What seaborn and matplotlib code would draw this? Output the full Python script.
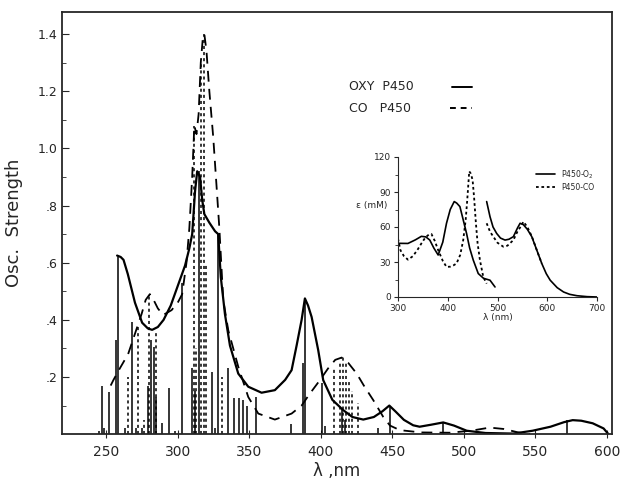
import numpy as np
import pandas as pd
import seaborn as sns
import matplotlib.pyplot as plt

# main spectrum: simulated curves (nm, osc. strength)
oxy_nm = [257.5, 260, 262, 265, 270, 275, 279, 282, 286, 290, 295, 300, 305, 308, 310, 312,
          313.5, 315.5, 317, 318.5, 322, 326, 328.2, 330, 332.9, 336.4, 342.2, 349.2, 358.5,
          367.8, 375, 379.5, 383, 386.5, 388.8, 391, 393.5, 398.1, 401.6, 408, 415.6, 422,
          429.6, 437, 443, 447.8, 452, 458, 464.5, 469, 477, 485.5, 493, 501.9, 515, 534.5,
          548, 560.5, 570, 576, 582, 590, 597.6, 601]
oxy_f = [0.625, 0.62, 0.61, 0.56, 0.46, 0.39, 0.37, 0.365, 0.375, 0.40, 0.45, 0.52, 0.59,
         0.65, 0.70, 0.85, 0.92, 0.90, 0.82, 0.77, 0.74, 0.71, 0.70, 0.55, 0.42, 0.31, 0.212,
         0.166, 0.145, 0.154, 0.19, 0.224, 0.31, 0.40, 0.475, 0.45, 0.41, 0.294, 0.189, 0.12,
         0.084, 0.06, 0.051, 0.06, 0.08, 0.10, 0.08, 0.05, 0.031, 0.026, 0.033, 0.041, 0.03,
         0.012, 0.004, 0.002, 0.012, 0.026, 0.042, 0.049, 0.047, 0.038, 0.02, 0.0]

co_nm = [253, 255, 259.4, 265.2, 269.9, 274.6, 277.5, 280.4, 283, 286, 289.7, 295.6, 300.2,
         303, 306, 308, 310, 311.5, 313, 314.5, 316, 317.5, 318.5, 320, 322, 324.7, 327, 329,
         331.7, 335.2, 342.2, 349.2, 356.2, 367.8, 379.5, 386.5, 392, 399.3, 405, 410, 414.5,
         419, 425, 430, 436.6, 443.6, 448.3, 455.2, 470, 490, 505, 518, 528, 538, 546]
co_f = [0.17, 0.19, 0.23, 0.28, 0.35, 0.42, 0.47, 0.49, 0.47, 0.44, 0.417, 0.434, 0.463,
        0.49, 0.60, 0.72, 0.90, 1.08, 1.05, 1.12, 1.30, 1.39, 1.40, 1.34, 1.20, 1.04, 0.87,
        0.72, 0.47, 0.364, 0.236, 0.13, 0.072, 0.051, 0.072, 0.10, 0.14, 0.189, 0.23, 0.26,
        0.268, 0.25, 0.212, 0.17, 0.119, 0.06, 0.03, 0.014, 0.006, 0.005, 0.012, 0.023,
        0.018, 0.006, 0.0]

# computed transitions (sticks)
oxy_stick_nm = [245, 247, 248.5, 251.7, 257, 258.3, 263, 267.6, 271, 275, 279, 281, 283.4,
                285, 288.6, 293.7, 298, 303, 309.6, 312, 314.9, 323.6, 326, 328.2, 335.2,
                339.4, 342.9, 345.2, 348.5, 354.5, 379, 387.6, 388.8, 400.5, 403, 414.5, 417,
                440, 448, 485.5, 572]
oxy_stick_f = [0.01, 0.168, 0.02, 0.148, 0.33, 0.62, 0.02, 0.393, 0.02, 0.02, 0.17, 0.33,
               0.306, 0.13, 0.04, 0.16, 0.01, 0.53, 0.23, 0.15, 0.92, 0.218, 0.02, 0.70,
               0.233, 0.125, 0.125, 0.118, 0.10, 0.13, 0.035, 0.25, 0.475, 0.18, 0.03, 0.09,
               0.05, 0.02, 0.10, 0.04, 0.05]

co_stick_nm = [264.8, 272, 276, 280, 285, 311.5, 313, 316, 318.2, 320, 330.5, 409, 413,
               415.6, 417.5, 419.8, 422, 426]
co_stick_f = [0.2, 0.38, 0.05, 0.49, 0.36, 1.08, 0.3, 1.30, 1.40, 0.6, 0.2, 0.23, 0.25,
              0.27, 0.25, 0.19, 0.15, 0.11]

# inset: experimental spectra (nm, epsilon mM)
o2_a_nm = [301, 320, 335, 347, 356, 363.9, 372, 380.7, 390, 397.5, 405, 413, 418, 424.4,
           430, 437.8, 444, 451.3, 461.3, 472, 484.9, 495]
o2_a_e = [46, 45.9, 49, 52, 51.5, 48.8, 42, 36, 47, 63.2, 75, 81.8, 80.5, 77.5, 68, 54.5,
          42, 31.6, 20.1, 16, 14.4, 8.6]
o2_b_nm = [478.2, 484.9, 491, 498.3, 506, 515.1, 523, 531.9, 540, 545.4, 552, 560, 568.9,
           580, 589, 598, 605.9, 620, 632.8, 645, 659.7, 680, 700]
o2_b_e = [81.8, 68.9, 60, 54.5, 50.5, 48.8, 49.5, 51.7, 59, 63.2, 62, 58, 51.7, 39, 28.7,
          20, 14.4, 8, 4.3, 2.3, 1.1, 0.3, 0]

co_a_nm = [300, 305, 312, 320, 330, 340, 347, 355, 362, 367.2, 374, 380.7, 390, 397.5, 405,
           411, 417.6, 425, 431.1, 436, 439.2, 443.2, 446, 449.9, 453, 456.6, 460, 464.7,
           471.4, 478.2]
co_a_e = [50, 40, 35, 32, 35, 41, 45.9, 51, 53.5, 54, 48, 40.2, 31, 25.8, 26, 27, 28.7, 36,
          48.8, 66, 83.3, 107.7, 106, 100.5, 85, 63.2, 46, 31.6, 17.2, 11.5]
co_b_nm = [478.2, 485, 491.6, 500, 511.8, 520, 531.9, 540, 548.7, 552, 560, 568.9, 580, 589]
co_b_e = [63.2, 56, 51.7, 46.5, 43.1, 44, 48.8, 56, 61.7, 64.6, 60, 52, 39, 28.7]

sns.set_style("ticks")
plt.rcParams['font.family'] = ['DejaVu Sans']

fig = plt.figure(figsize=(6.29, 4.84), dpi=100)
ax = fig.add_axes([0.0986, 0.103, 0.8744, 0.872])

ax.vlines(oxy_stick_nm, 0, oxy_stick_f, colors='black', linewidth=1.1)
ax.vlines(co_stick_nm, 0, co_stick_f, colors='black', linewidth=1.1, linestyles=(0, (2, 2)))

oxy = pd.DataFrame({'nm': oxy_nm, 'f': oxy_f})
co = pd.DataFrame({'nm': co_nm, 'f': co_f})
sns.lineplot(data=oxy, x='nm', y='f', ax=ax, color='black', linewidth=1.6, sort=False)
sns.lineplot(data=co, x='nm', y='f', ax=ax, color='black', linewidth=1.3,
             linestyle=(0, (6, 4)), sort=False)

ax.set_xlim(219, 603.5)
ax.set_ylim(0, 1.477)
ax.set_xticks([250, 300, 350, 400, 450, 500, 550, 600])
ax.set_yticks([0.2, 0.4, 0.6, 0.8, 1.0, 1.2, 1.4])
ax.set_yticklabels(['.2', '.4', '.6', '.8', '1.0', '1.2', '1.4'])
ax.set_yticks(np.arange(0.1, 1.45, 0.2), minor=True)
ax.tick_params(axis='y', direction='in', length=5, labelsize=9)
ax.tick_params(axis='y', which='minor', direction='in', length=3)
ax.tick_params(axis='x', direction='inout', length=6, labelsize=10, pad=5)
for s in ax.spines.values():
    s.set_linewidth(1.3)
ax.set_xlabel('λ ,nm', fontsize=12, labelpad=2)
ax.set_ylabel('Osc.  Strength', fontsize=13, labelpad=10)

# legend drawn as text + line samples
fig.text(349 / 629, 1 - 87 / 484, 'OXY  P450', fontsize=9, va='center')
fig.text(349 / 629, 1 - 108 / 484, 'CO   P450', fontsize=9, va='center')
fig.add_artist(plt.Line2D([452 / 629, 472 / 629], [1 - 87 / 484] * 2, color='black',
                          linewidth=1.4))
fig.add_artist(plt.Line2D([450 / 629, 472 / 629], [1 - 108 / 484] * 2, color='black',
                          linewidth=1.4, linestyle=(0, (3, 2.5))))

# inset
ins = fig.add_axes([398 / 629, 1 - 297 / 484, 199 / 629, 140 / 484])
ins.patch.set_alpha(0)
sns.lineplot(x=o2_a_nm, y=o2_a_e, ax=ins, color='black', linewidth=1.2, sort=False,
             label='P450-O$_2$')
sns.lineplot(x=o2_b_nm, y=o2_b_e, ax=ins, color='black', linewidth=1.2, sort=False)
sns.lineplot(x=co_a_nm, y=co_a_e, ax=ins, color='black', linewidth=1.3, sort=False,
             linestyle=(0, (1.5, 1.5)), label='P450-CO')
sns.lineplot(x=co_b_nm, y=co_b_e, ax=ins, color='black', linewidth=1.3, sort=False,
             linestyle=(0, (1.5, 1.5)))
ins.set_xlim(300, 700)
ins.set_ylim(0, 120)
ins.set_xticks([300, 400, 500, 600, 700])
ins.set_yticks([0, 30, 60, 90, 120])
ins.set_yticks([15, 45, 75, 105], minor=True)
ins.tick_params(labelsize=6.5, length=3, pad=2)
ins.tick_params(which='minor', length=2)
ins.spines['top'].set_visible(False)
ins.spines['right'].set_visible(False)
ins.set_xlabel('λ (nm)', fontsize=6.5, labelpad=0)
ins.set_ylabel('ε (mM)', fontsize=6.5, rotation=0, labelpad=12)
ins.yaxis.set_label_coords(-0.13, 0.62)
ins.legend(loc='upper right', bbox_to_anchor=(1.02, 0.97), fontsize=5.5, frameon=False,
           handlelength=2.5, labelspacing=0.3)

plt.savefig('out.png', dpi=100)
